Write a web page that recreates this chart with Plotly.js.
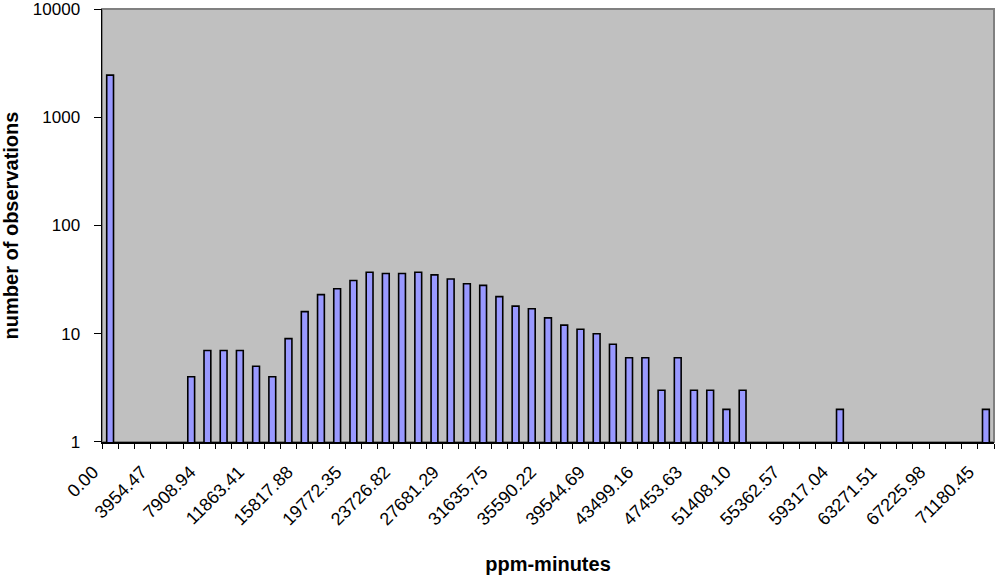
<!DOCTYPE html>
<html>
<head>
<meta charset="utf-8">
<script src="https://cdn.plot.ly/plotly-3.0.1.min.js"></script>
<style>html,body{margin:0;padding:0;background:#fff;}#chart{width:1000px;height:579px;}</style>
</head>
<body>
<div id="chart"></div>
<script>
// Bin lower edges (ppm-minutes), one category per bin
const bins = [
  "0.00","1318.16","2636.31","3954.47","5272.63","6590.78","7908.94","9227.10","10545.25","11863.41",
  "13181.56","14499.72","15817.88","17136.03","18454.19","19772.35","21090.50","22408.66","23726.82","25044.97",
  "26363.13","27681.29","28999.44","30317.60","31635.75","32953.91","34272.07","35590.22","36908.38","38226.54",
  "39544.69","40862.85","42181.01","43499.16","44817.32","46135.48","47453.63","48771.79","50089.95","51408.10",
  "52726.26","54044.42","55362.57","56680.73","57998.89","59317.04","60635.20","61953.35","63271.51","64589.67",
  "65907.82","67225.98","68544.14","69862.29","71180.45"
];
// Number of observations per bin (null = no observations)
const counts = [
  2450, null, null, null, null, 4, 7, 7, 7, 5,
  4, 9, 16, 23, 26, 31, 37, 36, 36, 37,
  35, 32, 29, 28, 22, 18, 17, 14, 12, 11,
  10, 8, 6, 6, 3, 6, 3, 3, 2, 3,
  null, null, null, null, null, 2, null, null, null, null,
  null, null, null, null, 2
];
// Labels shown on the x axis
const xTickLabels = [
  "0.00","3954.47","7908.94","11863.41","15817.88","19772.35","23726.82","27681.29","31635.75","35590.22",
  "39544.69","43499.16","47453.63","51408.10","55362.57","59317.04","63271.51","67225.98","71180.45"
];
const yTickVals = [1, 10, 100, 1000, 10000];
const yTickText = ["1", "10", "100", "1000", "10000"];

const ticktext = bins.map(b => xTickLabels.includes(b) ? b : "");

const font = "Liberation Sans, Arial, sans-serif";

Plotly.newPlot("chart", [{
  type: "bar",
  x: bins,
  y: counts,
  marker: {color: "#9999FF", line: {color: "#000000", width: 1.6}},
  hoverinfo: "x+y"
}], {
  width: 1000, height: 579,
  margin: {l: 102, r: 6, t: 9, b: 137},
  paper_bgcolor: "#ffffff",
  plot_bgcolor: "#C0C0C0",
  bargap: 0.58,
  showlegend: false,
  font: {family: font, size: 18, color: "#000"},
  xaxis: {
    type: "category",
    range: [-0.5, 54.5],
    tickmode: "array",
    tickvals: bins,
    ticktext: ticktext,
    tickson: "boundaries",
    ticks: "outside", ticklen: 5, tickcolor: "#000", tickwidth: 1,
    tickangle: -45,
    ticklabelshift: -17,
    ticklabelstandoff: 11,
    tickfont: {family: font, size: 18, color: "#000"},
    showline: true, linecolor: "#000", linewidth: 1.5,
    showgrid: false, zeroline: false,
    automargin: false,
    title: {text: "ppm-minutes", font: {family: font, size: 20, color: "#000", weight: "bold"}, standoff: 28}
  },
  yaxis: {
    type: "log",
    range: [-0.0005, 4.0005],
    tickmode: "array",
    tickvals: yTickVals,
    ticktext: yTickText,
    ticks: "outside", ticklen: 7, tickcolor: "#000", tickwidth: 1,
    ticklabelstandoff: 10,
    ticklabeloverflow: "allow",
    tickfont: {family: font, size: 17, color: "#000"},
    showline: true, linecolor: "#000", linewidth: 1.5,
    showgrid: false, zeroline: false,
    automargin: false,
    title: {text: "number of observations", font: {family: font, size: 20, color: "#000", weight: "bold"}, standoff: 16}
  },
  shapes: [{
    type: "rect", xref: "paper", yref: "paper", x0: 0, x1: 1, y0: 0, y1: 1,
    line: {color: "#808080", width: 2}, layer: "below"
  }]
}, {displayModeBar: false, staticPlot: true});
</script>
</body>
</html>
